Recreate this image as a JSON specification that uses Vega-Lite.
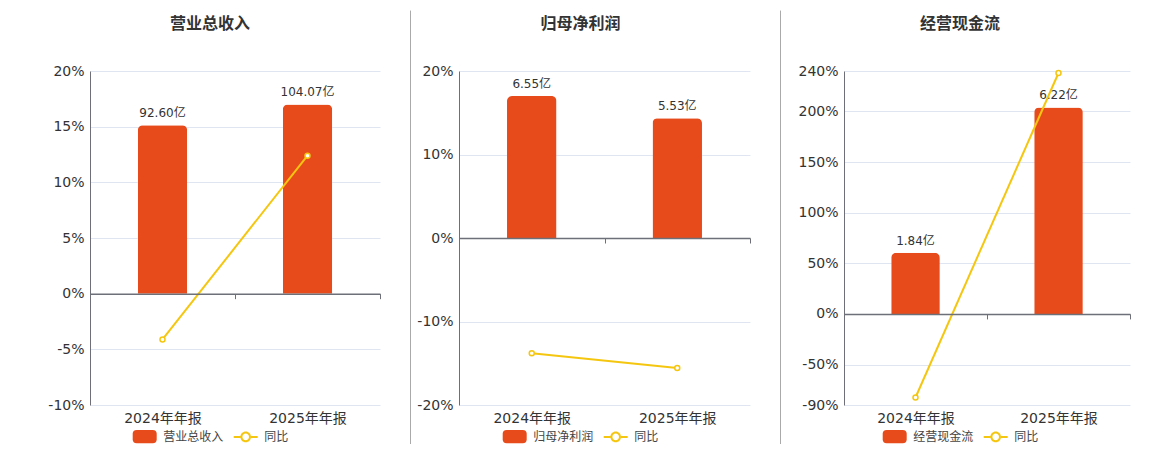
{
  "$schema": "https://vega.github.io/schema/vega-lite/v6.json",
  "padding": {"left": 0, "top": 10, "right": 0, "bottom": 0},
  "spacing": 0,
  "datasets": {
    "p1": [
      {"period": "2024年年报", "value": 92.60, "label": "92.60亿", "yoy": -4.11},
      {"period": "2025年年报", "value": 104.07, "label": "104.07亿", "yoy": 12.39}
    ],
    "p2": [
      {"period": "2024年年报", "value": 6.55, "label": "6.55亿", "yoy": -13.8},
      {"period": "2025年年报", "value": 5.53, "label": "5.53亿", "yoy": -15.57}
    ],
    "p3": [
      {"period": "2024年年报", "value": 1.84, "label": "1.84亿", "yoy": -82.6},
      {"period": "2025年年报", "value": 6.22, "label": "6.22亿", "yoy": 238.04}
    ]
  },
  "hconcat": [
    {
      "width": 290, "height": 334,
      "data": {"name": "p1"},
      "title": {"text": "营业总收入", "frame": "group", "anchor": "middle", "dx": -25, "offset": 16.5, "baseline": "bottom", "fontSize": 16, "fontWeight": "bold", "color": "#333333", "font": "Noto Sans CJK SC"},
      "layer": [
        {"layer": [
          {"mark": {"type": "bar", "cornerRadiusTopLeft": 5, "cornerRadiusTopRight": 5, "width": {"band": 0.34}},
           "encoding": {
             "x": {"field": "period", "type": "nominal", "sort": null, "scale": {"paddingInner": 0, "paddingOuter": 0},
                   "axis": {"title": null, "orient": "bottom", "offset": -111.33, "domainColor": "#6e7079", "domainWidth": 1.5, "tickColor": "#6e7079", "tickSize": 5, "tickBand": "extent", "labelPadding": 112.8, "labelFontSize": 14, "labelColor": "#333333", "labelAngle": 0, "grid": false, "zindex": 1}},
             "y": {"field": "value", "type": "quantitative", "scale": {"domain": [-61.2175, 122.435], "nice": false},
                   "axis": {"orient": "right", "labels": false, "ticks": false, "domain": false, "grid": false, "title": null, "minExtent": 30}},
             "color": {"datum": "营业总收入", "type": "nominal", "scale": {"domain": ["营业总收入", "同比"], "range": ["#e84b1b", "#f5c60f"]},
                       "legend": {"orient": "none", "legendX": 42.7, "legendY": 353.4, "direction": "horizontal", "title": null, "labelFontSize": 12, "labelColor": "#444444", "symbolSize": 576, "symbolStrokeWidth": 0, "labelOffset": 6.6, "columnPadding": 10, "padding": 0,
                                  "encode": {"symbols": {"update": {
                                    "shape": {"signal": "datum.value === '同比' ? 'M-1,-0.083L-0.44,-0.083L-0.44,0.083L-1,0.083ZM0.44,-0.083L1,-0.083L1,0.083L0.44,0.083ZM-0.44,0A0.44,0.44,0,1,1,0.44,0A0.44,0.44,0,1,1,-0.44,0ZM-0.275,0A0.275,0.275,0,1,0,0.275,0A0.275,0.275,0,1,0,-0.275,0Z' : 'M-0.67,-0.555L0.67,-0.555Q1,-0.555,1,-0.225L1,0.225Q1,0.555,0.67,0.555L-0.67,0.555Q-1,0.555,-1,0.225L-1,-0.225Q-1,-0.555,-0.67,-0.555Z'"},
                                    "opacity": {"value": 1}}}}}}
           }},
          {"mark": {"type": "text", "baseline": "bottom", "dy": -5, "fontSize": 12, "color": "#333333"},
           "encoding": {
             "x": {"field": "period", "type": "nominal", "sort": null},
             "y": {"field": "value", "type": "quantitative"},
             "text": {"field": "label"}
           }}
        ]},
        {"layer": [
          {"mark": {"type": "line", "strokeWidth": 2},
           "encoding": {
             "x": {"field": "period", "type": "nominal", "sort": null},
             "y": {"field": "yoy", "type": "quantitative", "scale": {"domain": [-10, 20], "nice": false, "zero": false},
                   "axis": {"values": [-10, -5, 0, 5, 10, 15, 20], "labelExpr": "datum.value + '%'", "title": null, "orient": "left", "grid": true, "gridColor": "#e0e6f1", "domainColor": "#6e7079", "ticks": false, "tickSize": 0, "labelPadding": 6, "labelFontSize": 14, "labelColor": "#333333", "labelFlush": false, "labelOverlap": false, "minExtent": 90}},
             "color": {"datum": "同比", "type": "nominal"}
           }},
          {"mark": {"type": "point", "filled": true, "fill": "#ffffff", "stroke": "#f5c60f", "strokeWidth": 1.5, "size": 25, "opacity": 1},
           "encoding": {
             "x": {"field": "period", "type": "nominal", "sort": null},
             "y": {"field": "yoy", "type": "quantitative"}
           }}
        ]}
      ],
      "resolve": {"scale": {"y": "independent"}, "axis": {"y": "independent"}}
    },
    {
      "width": 1, "height": 373,
      "data": {"values": [{}]},
      "mark": {"type": "rule", "color": "#aaaaaa", "strokeWidth": 1},
      "encoding": {
        "y": {"datum": 0, "type": "quantitative", "scale": {"domain": [0, 1]}, "axis": null},
        "y2": {"datum": 1.162}
      }
    },
    {
      "width": 291, "height": 334,
      "data": {"name": "p2"},
      "title": {"text": "归母净利润", "frame": "group", "anchor": "middle", "dx": -24, "offset": 16.5, "baseline": "bottom", "fontSize": 16, "fontWeight": "bold", "color": "#333333", "font": "Noto Sans CJK SC"},
      "layer": [
        {"layer": [
          {"mark": {"type": "bar", "cornerRadiusTopLeft": 5, "cornerRadiusTopRight": 5, "width": {"band": 0.34}},
           "encoding": {
             "x": {"field": "period", "type": "nominal", "sort": null, "scale": {"paddingInner": 0, "paddingOuter": 0},
                   "axis": {"title": null, "orient": "bottom", "offset": -167, "domainColor": "#6e7079", "domainWidth": 1.5, "tickColor": "#6e7079", "tickSize": 5, "tickBand": "extent", "labelPadding": 168.5, "labelFontSize": 14, "labelColor": "#333333", "labelAngle": 0, "grid": false, "zindex": 1}},
             "y": {"field": "value", "type": "quantitative", "scale": {"domain": [-7.706, 7.706], "nice": false},
                   "axis": {"orient": "right", "labels": false, "ticks": false, "domain": false, "grid": false, "title": null, "minExtent": 30}},
             "color": {"datum": "归母净利润", "type": "nominal", "scale": {"domain": ["归母净利润", "同比"], "range": ["#e84b1b", "#f5c60f"]},
                       "legend": {"orient": "none", "legendX": 43.7, "legendY": 353.4, "direction": "horizontal", "title": null, "labelFontSize": 12, "labelColor": "#444444", "symbolSize": 576, "symbolStrokeWidth": 0, "labelOffset": 6.6, "columnPadding": 10, "padding": 0,
                                  "encode": {"symbols": {"update": {
                                    "shape": {"signal": "datum.value === '同比' ? 'M-1,-0.083L-0.44,-0.083L-0.44,0.083L-1,0.083ZM0.44,-0.083L1,-0.083L1,0.083L0.44,0.083ZM-0.44,0A0.44,0.44,0,1,1,0.44,0A0.44,0.44,0,1,1,-0.44,0ZM-0.275,0A0.275,0.275,0,1,0,0.275,0A0.275,0.275,0,1,0,-0.275,0Z' : 'M-0.67,-0.555L0.67,-0.555Q1,-0.555,1,-0.225L1,0.225Q1,0.555,0.67,0.555L-0.67,0.555Q-1,0.555,-1,0.225L-1,-0.225Q-1,-0.555,-0.67,-0.555Z'"},
                                    "opacity": {"value": 1}}}}}}
           }},
          {"mark": {"type": "text", "baseline": "bottom", "dy": -5, "fontSize": 12, "color": "#333333"},
           "encoding": {
             "x": {"field": "period", "type": "nominal", "sort": null},
             "y": {"field": "value", "type": "quantitative"},
             "text": {"field": "label"}
           }}
        ]},
        {"layer": [
          {"mark": {"type": "line", "strokeWidth": 2},
           "encoding": {
             "x": {"field": "period", "type": "nominal", "sort": null},
             "y": {"field": "yoy", "type": "quantitative", "scale": {"domain": [-20, 20], "nice": false, "zero": false},
                   "axis": {"values": [-20, -10, 0, 10, 20], "labelExpr": "datum.value + '%'", "title": null, "orient": "left", "grid": true, "gridColor": "#e0e6f1", "domainColor": "#6e7079", "ticks": false, "tickSize": 0, "labelPadding": 6, "labelFontSize": 14, "labelColor": "#333333", "labelFlush": false, "labelOverlap": false, "minExtent": 48}},
             "color": {"datum": "同比", "type": "nominal"}
           }},
          {"mark": {"type": "point", "filled": true, "fill": "#ffffff", "stroke": "#f5c60f", "strokeWidth": 1.5, "size": 25, "opacity": 1},
           "encoding": {
             "x": {"field": "period", "type": "nominal", "sort": null},
             "y": {"field": "yoy", "type": "quantitative"}
           }}
        ]}
      ],
      "resolve": {"scale": {"y": "independent"}, "axis": {"y": "independent"}}
    },
    {
      "width": 1, "height": 373,
      "data": {"values": [{}]},
      "mark": {"type": "rule", "color": "#aaaaaa", "strokeWidth": 1},
      "encoding": {
        "y": {"datum": 0, "type": "quantitative", "scale": {"domain": [0, 1]}, "axis": null},
        "y2": {"datum": 1.162}
      }
    },
    {
      "width": 286, "height": 334,
      "data": {"name": "p3"},
      "title": {"text": "经营现金流", "frame": "group", "anchor": "middle", "dx": -27, "offset": 16.5, "baseline": "bottom", "fontSize": 16, "fontWeight": "bold", "color": "#333333", "font": "Noto Sans CJK SC"},
      "layer": [
        {"layer": [
          {"mark": {"type": "bar", "cornerRadiusTopLeft": 5, "cornerRadiusTopRight": 5, "width": {"band": 0.34}},
           "encoding": {
             "x": {"field": "period", "type": "nominal", "sort": null, "scale": {"paddingInner": 0, "paddingOuter": 0},
                   "axis": {"title": null, "orient": "bottom", "offset": -91.09, "domainColor": "#6e7079", "domainWidth": 1.5, "tickColor": "#6e7079", "tickSize": 5, "tickBand": "extent", "labelPadding": 92.6, "labelFontSize": 14, "labelColor": "#333333", "labelAngle": 0, "grid": false, "zindex": 1}},
             "y": {"field": "value", "type": "quantitative", "scale": {"domain": [-2.744, 7.318], "nice": false},
                   "axis": {"orient": "right", "labels": false, "ticks": false, "domain": false, "grid": false, "title": null, "minExtent": 30}},
             "color": {"datum": "经营现金流", "type": "nominal", "scale": {"domain": ["经营现金流", "同比"], "range": ["#e84b1b", "#f5c60f"]},
                       "legend": {"orient": "none", "legendX": 38.7, "legendY": 353.4, "direction": "horizontal", "title": null, "labelFontSize": 12, "labelColor": "#444444", "symbolSize": 576, "symbolStrokeWidth": 0, "labelOffset": 6.6, "columnPadding": 10, "padding": 0,
                                  "encode": {"symbols": {"update": {
                                    "shape": {"signal": "datum.value === '同比' ? 'M-1,-0.083L-0.44,-0.083L-0.44,0.083L-1,0.083ZM0.44,-0.083L1,-0.083L1,0.083L0.44,0.083ZM-0.44,0A0.44,0.44,0,1,1,0.44,0A0.44,0.44,0,1,1,-0.44,0ZM-0.275,0A0.275,0.275,0,1,0,0.275,0A0.275,0.275,0,1,0,-0.275,0Z' : 'M-0.67,-0.555L0.67,-0.555Q1,-0.555,1,-0.225L1,0.225Q1,0.555,0.67,0.555L-0.67,0.555Q-1,0.555,-1,0.225L-1,-0.225Q-1,-0.555,-0.67,-0.555Z'"},
                                    "opacity": {"value": 1}}}}}}
           }},
          {"mark": {"type": "text", "baseline": "bottom", "dy": -5, "fontSize": 12, "color": "#333333"},
           "encoding": {
             "x": {"field": "period", "type": "nominal", "sort": null},
             "y": {"field": "value", "type": "quantitative"},
             "text": {"field": "label"}
           }}
        ]},
        {"layer": [
          {"mark": {"type": "line", "strokeWidth": 2},
           "encoding": {
             "x": {"field": "period", "type": "nominal", "sort": null},
             "y": {"field": "yoy", "type": "quantitative", "scale": {"domain": [-90, 240], "nice": false, "zero": false},
                   "axis": {"values": [-90, -50, 0, 50, 100, 150, 200, 240], "labelExpr": "datum.value + '%'", "title": null, "orient": "left", "grid": true, "gridColor": "#e0e6f1", "domainColor": "#6e7079", "ticks": false, "tickSize": 0, "labelPadding": 6, "labelFontSize": 14, "labelColor": "#333333", "labelFlush": false, "labelOverlap": false, "minExtent": 63}},
             "color": {"datum": "同比", "type": "nominal"}
           }},
          {"mark": {"type": "point", "filled": true, "fill": "#ffffff", "stroke": "#f5c60f", "strokeWidth": 1.5, "size": 25, "opacity": 1},
           "encoding": {
             "x": {"field": "period", "type": "nominal", "sort": null},
             "y": {"field": "yoy", "type": "quantitative"}
           }}
        ]}
      ],
      "resolve": {"scale": {"y": "independent"}, "axis": {"y": "independent"}}
    }
  ],
  "resolve": {"scale": {"color": "independent"}, "legend": {"color": "independent"}},
  "config": {
    "view": {"stroke": null},
    "font": "DejaVu Sans, Noto Sans CJK SC",
    "axis": {"labelFont": "DejaVu Sans, Noto Sans CJK SC"},
    "legend": {"labelFont": "Noto Sans CJK SC"},
    "text": {"font": "DejaVu Sans, Noto Sans CJK SC"}
  }
}
